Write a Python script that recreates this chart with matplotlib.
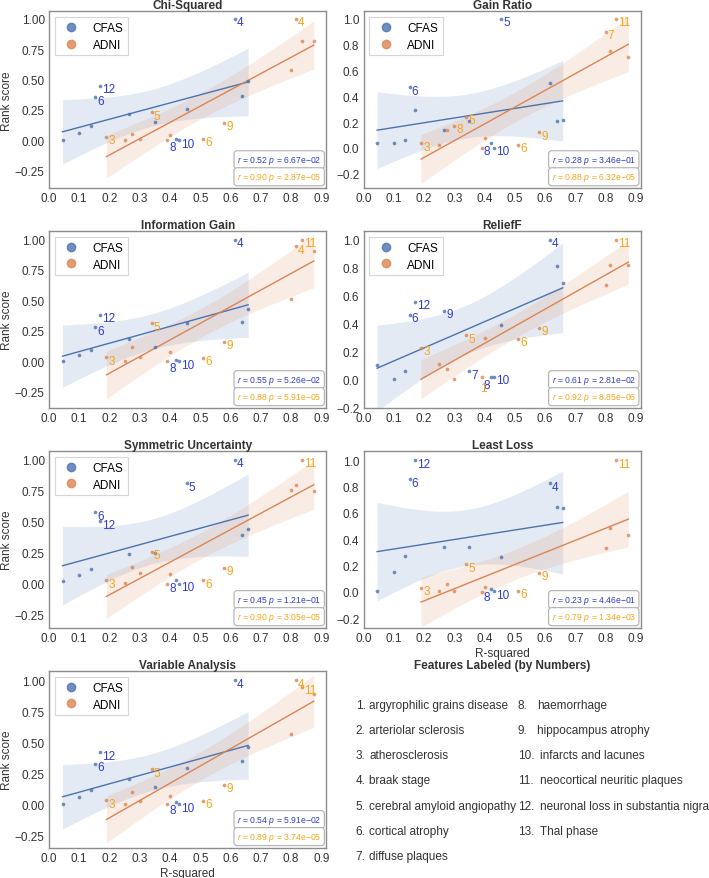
import matplotlib
matplotlib.use("Agg")
import matplotlib.pyplot as plt
from matplotlib.lines import Line2D
import numpy as np

plt.rcParams["font.family"] = ["Liberation Sans", "DejaVu Sans"]
plt.rcParams["mathtext.fontset"] = "custom"
plt.rcParams["mathtext.it"] = "Liberation Sans:italic"
plt.rcParams["mathtext.rm"] = "Liberation Sans"
plt.rcParams["axes.unicode_minus"] = True

# R-squared of each feature (same in every panel)
cfas_r2 = [0.045, 0.10, 0.138, 0.152, 0.17, 0.266, 0.35, 0.42, 0.43, 0.455, 0.615, 0.638, 0.658]
cfas_ids = [0, 0, 0, 6, 12, 9, 7, 8, 10, 5, 4, 0, 0]   # 0 = never labeled
adni_r2 = [0.19, 0.25, 0.275, 0.30, 0.34, 0.39, 0.40, 0.51, 0.58, 0.80, 0.815, 0.835, 0.875]
adni_ids = [3, 0, 0, 8, 5, 1, 0, 6, 9, 7, 4, 11, 0]

methods = ["Chi-Squared", "Gain Ratio", "Information Gain", "ReliefF",
           "Symmetric Uncertainty", "Least Loss", "Variable Analysis"]

# rank scores per method
cfas_chi = [0.005, 0.06, 0.12, 0.355, 0.45, 0.22, 0.15, 0.01, 0.0, 0.26, 1.0, 0.365, 0.49]
adni_chi = [0.03, 0.0, 0.05, 0.01, 0.23, 0.0, 0.047, 0.01, 0.143, 0.575, 1.0, 0.82, 0.82]
cfas_gr = [0.036, 0.04, 0.065, 0.47, 0.29, 0.14, 0.21, 0.035, 0.0, 1.0, 0.50, 0.21, 0.215]
adni_gr = [0.035, 0.02, 0.14, 0.17, 0.24, 0.0, 0.08, 0.026, 0.12, 0.90, 0.75, 1.0, 0.70]
cfas_ig = [0.005, 0.05, 0.095, 0.28, 0.38, 0.18, 0.12, 0.01, 0.0, 0.315, 1.0, 0.32, 0.43]
adni_ig = [0.033, 0.005, 0.118, 0.033, 0.31, 0.0, 0.074, 0.027, 0.16, 0.515, 0.945, 1.0, 0.905]
cfas_rf = [0.105, 0.005, 0.06, 0.465, 0.555, 0.49, 0.058, 0.015, 0.02, 0.387, 1.0, 0.81, 0.69]
adni_rf = [0.226, 0.113, 0.077, 0.005, 0.317, 0.017, 0.298, 0.29, 0.37, 0.675, 0.82, 1.0, 0.82]
cfas_su = [0.02, 0.068, 0.12, 0.575, 0.505, 0.243, 0.25, 0.027, 0.0, 0.81, 1.0, 0.39, 0.44]
adni_su = [0.027, 0.008, 0.135, 0.086, 0.257, 0.0, 0.076, 0.027, 0.127, 0.757, 0.797, 1.0, 0.749]
cfas_ll = [0.008, 0.153, 0.273, 0.855, 1.0, 0.344, 0.344, 0.02, 0.005, 0.263, 0.824, 0.643, 0.635]
adni_ll = [0.03, 0.005, 0.059, 0.01, 0.21, 0.0, 0.038, 0.008, 0.145, 0.332, 0.485, 1.0, 0.434]
cfas_va = [0.005, 0.06, 0.114, 0.324, 0.42, 0.203, 0.135, 0.014, 0.0, 0.29, 1.0, 0.346, 0.465]
adni_va = [0.032, 0.005, 0.095, 0.027, 0.28, 0.0, 0.065, 0.027, 0.157, 0.562, 1.0, 0.945, 0.89]

cfas_scores = [cfas_chi, cfas_gr, cfas_ig, cfas_rf, cfas_su, cfas_ll, cfas_va]
adni_scores = [adni_chi, adni_gr, adni_ig, adni_rf, adni_su, adni_ll, adni_va]

# y range of each panel as in the original
ylims = [(-0.396, 1.063), (-0.312, 1.057), (-0.387, 1.068), (-0.207, 1.062),
         (-0.358, 1.068), (-0.276, 1.069), (-0.355, 1.073)]

# which feature numbers are written next to the points
cfas_labeled = [[6, 12, 8, 10, 4], [6, 5, 8, 10], [12, 6, 8, 10, 4], [4, 12, 6, 9, 7, 8, 10],
                [4, 5, 6, 12, 8, 10], [12, 6, 4, 8, 10], [4, 12, 6, 8, 10]]
adni_labeled = [[3, 5, 6, 9, 4], [3, 5, 8, 6, 9, 7, 11], [3, 5, 6, 9, 4, 11], [3, 5, 9, 6, 1, 11],
                [3, 5, 6, 9, 11], [3, 5, 9, 6, 11], [4, 11, 5, 3, 9, 6]]

cfas_stats = ["0.52 $p$ = 6.67e\u221202", "0.28 $p$ = 3.46e\u221201", "0.55 $p$ = 5.26e\u221202",
              "0.61 $p$ = 2.81e\u221202", "0.45 $p$ = 1.21e\u221201", "0.23 $p$ = 4.46e\u221201",
              "0.54 $p$ = 5.91e\u221202"]
adni_stats = ["0.90 $p$ = 2.87e\u221205", "0.88 $p$ = 6.32e\u221205", "0.88 $p$ = 5.91e\u221205",
              "0.92 $p$ = 8.85e\u221206", "0.90 $p$ = 3.05e\u221205", "0.79 $p$ = 1.34e\u221203",
              "0.89 $p$ = 3.74e\u221205"]

features = ["argyrophilic grains disease", "arteriolar sclerosis", "atherosclerosis",
            "braak stage", "cerebral amyloid angiopathy", "cortical atrophy", "diffuse plaques",
            "haemorrhage", "hippocampus atrophy", "infarcts and lacunes",
            "neocortical neuritic plaques", "neuronal loss in substantia nigra", "Thal phase"]

blue = "#4c72b0"
orange = "#dd8452"
blue_txt = "#2f3cd2"
orange_txt = "#f7a418"
dark = "#333333"
T95 = 2.201  # t(0.975, df=11)
fs = 8.5


def regline(ax, x, y, color):
    x = np.array(x)
    y = np.array(y)
    n = len(x)
    b, a = np.polyfit(x, y, 1)
    xs = np.linspace(x.min(), x.max(), 100)
    yh = a + b * xs
    resid = y - (a + b * x)
    s = np.sqrt(np.sum(resid ** 2) / (n - 2))
    se = s * np.sqrt(1.0 / n + (xs - x.mean()) ** 2 / np.sum((x - x.mean()) ** 2))
    ax.fill_between(xs, yh - T95 * se, yh + T95 * se, color=color, alpha=0.15, lw=0)
    ax.plot(xs, yh, color=color, lw=1.0)
    ax.scatter(x, y, s=7, color=color, alpha=0.8, lw=0, zorder=3)


def put_labels(ax, x, y, ids, which, color, group, title):
    for xi, yi, fid in zip(x, y, ids):
        if fid == 0 or fid not in which:
            continue
        off, ha = (1.5, -2.5), "left"
        if group == "cfas" and fid == 8:
            off, ha = (-0.3, -5.5), "right"
        if group == "adni" and fid == 1 and title == "ReliefF":
            off, ha = (1.0, -8.0), "center"
        ax.annotate(str(fid), (xi, yi), xytext=off, textcoords="offset points",
                    ha=ha, va="center", color=color, fontsize=fs, zorder=4)


fig, axes = plt.subplots(4, 2, figsize=(7.09, 8.79), dpi=100)
plt.subplots_adjust(left=0.069, right=0.904, top=0.986, bottom=0.034, wspace=0.134, hspace=0.243)
axs = axes.flatten()

for i, title in enumerate(methods):
    ax = axs[i]
    regline(ax, cfas_r2, cfas_scores[i], blue)
    regline(ax, adni_r2, adni_scores[i], orange)
    put_labels(ax, cfas_r2, cfas_scores[i], cfas_ids, cfas_labeled[i], blue_txt, "cfas", title)
    put_labels(ax, adni_r2, adni_scores[i], adni_ids, adni_labeled[i], orange_txt, "adni", title)

    ax.set_title(title, fontsize=fs, fontweight="bold", pad=1, color=dark)
    ax.set_xticks(np.arange(0, 0.91, 0.1))
    if i % 2 == 0:
        ax.set_yticks([-0.25, 0.0, 0.25, 0.5, 0.75, 1.0])
    else:
        ax.set_yticks([-0.2, 0.0, 0.2, 0.4, 0.6, 0.8, 1.0])
    ax.set_ylim(ylims[i])
    ax.tick_params(length=0, labelsize=fs, pad=3, colors=dark)
    for sp in ax.spines.values():
        sp.set_color("#8c8c8c")
        sp.set_linewidth(1.0)
    if i % 2 == 0:
        ax.set_ylabel("Rank score", fontsize=fs, color=dark, labelpad=1.5)
    if i in (5, 6):
        ax.set_xlabel("R-squared", fontsize=fs, color=dark, labelpad=2)

    if title != "Least Loss":
        handles = [Line2D([], [], marker="o", ls="", color=blue, alpha=0.8, markersize=6, label="CFAS"),
                   Line2D([], [], marker="o", ls="", color=orange, alpha=0.8, markersize=6, label="ADNI")]
        leg = ax.legend(handles=handles, loc="upper left", fontsize=fs, labelspacing=0.4,
                        fancybox=False, edgecolor="#cccccc")
        leg.get_frame().set_linewidth(0.8)

    box = dict(boxstyle="round,pad=0.35", fc="white", ec="#b0b0b0", lw=0.8)
    ax.text(0.982, 0.161, "$r$ = " + cfas_stats[i], transform=ax.transAxes, ha="right",
            va="center", fontsize=6.2, color=blue_txt, bbox=box, zorder=5)
    ax.text(0.982, 0.065, "$r$ = " + adni_stats[i], transform=ax.transAxes, ha="right",
            va="center", fontsize=6.2, color=orange_txt, bbox=box, zorder=5)

# feature key in the empty corner
ax = axs[7]
ax.axis("off")
ax.set_title("Features Labeled (by Numbers)", fontsize=fs, fontweight="bold", pad=1, color=dark)
for k, name in enumerate(features):
    num = k + 1
    if num <= 7:
        row, xn, xt = k, -0.028, 0.02
    else:
        row, xn = k - 7, 0.556
        xt = 0.625 if num < 10 else 0.637
    yy = 0.81 - row * 0.1425
    ax.text(xn, yy, f"{num}.", transform=ax.transAxes, fontsize=fs, va="center", color=dark)
    ax.text(xt, yy, name, transform=ax.transAxes, fontsize=fs, va="center", color=dark)

fig.savefig("out.png", dpi=100)
